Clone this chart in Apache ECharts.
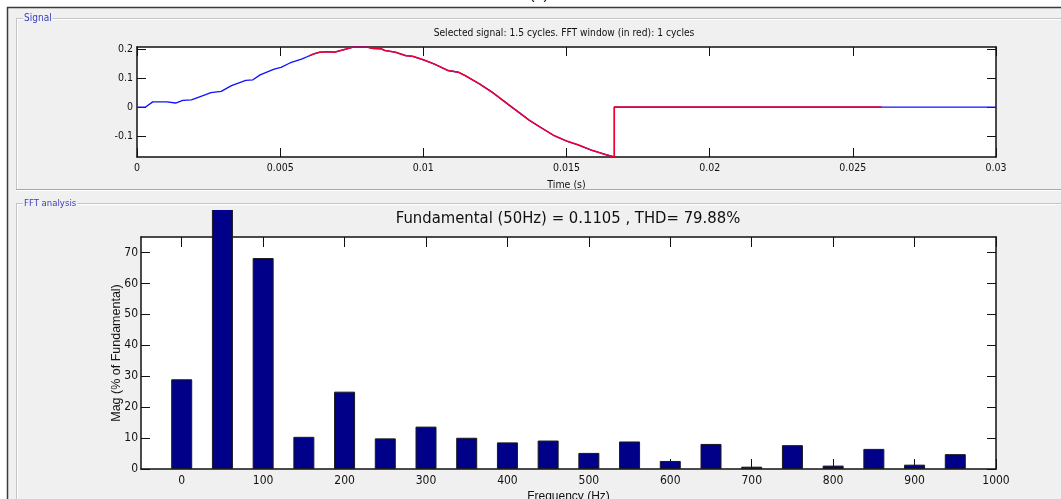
<!DOCTYPE html>
<html>
<head>
<meta charset="utf-8">
<script src="https://cdn.jsdelivr.net/npm/echarts/dist/echarts.min.js"></script>
<style>
  html, body { margin: 0; padding: 0; background: #f0f0f0; overflow: hidden; }
  #frame { position: absolute; left: 0; top: 0; width: 1061px; height: 499px; }
  #sig   { position: absolute; left: 0; top: 0; width: 1061px; height: 189px; }
  #fft   { position: absolute; left: 0; top: 210px; width: 1061px; height: 289px; }
</style>
</head>
<body>
<div id="frame"></div>
<div id="sig"></div>
<div id="fft"></div>
<script>
// ---- Signal panel data (time in s, amplitude) ----
const signalTime = [0, 0.0003, 0.00055, 0.00104, 0.00135, 0.0016, 0.0019, 0.0024, 0.00258, 0.00294,
  0.0033, 0.0038, 0.00405, 0.0043, 0.00479, 0.00503, 0.00534, 0.00577, 0.006, 0.0062,
  0.00638, 0.00669, 0.0069, 0.0073, 0.00755, 0.00804, 0.00822, 0.00853, 0.00865, 0.00902,
  0.00939, 0.00963, 0.01, 0.01037, 0.01086, 0.01123, 0.01147, 0.01196, 0.01245, 0.01294,
  0.01344, 0.01368, 0.01405, 0.01454, 0.01503, 0.0154, 0.01589, 0.01638, 0.01667, 0.01667,
  0.026, 0.03];
const signalValue = [0, 0, 0.018, 0.018, 0.014, 0.023, 0.025, 0.043, 0.05, 0.054,
  0.074, 0.092, 0.094, 0.111, 0.131, 0.137, 0.152, 0.166, 0.176, 0.184,
  0.189, 0.191, 0.189, 0.2, 0.207, 0.207, 0.202, 0.201, 0.195, 0.189,
  0.177, 0.175, 0.163, 0.149, 0.126, 0.12, 0.108, 0.08, 0.048, 0.011,
  -0.026, -0.044, -0.067, -0.097, -0.118, -0.13, -0.149, -0.164, -0.172, 0,
  0, 0];
const fftWindow = [0.006, 0.026];          // one cycle, drawn in red
const timeTicks = [0, 0.005, 0.01, 0.015, 0.02, 0.025, 0.03];
const ampTicks = [-0.1, 0, 0.1, 0.2];

// ---- FFT panel data (Hz, % of fundamental) ----
const harmonicFreq = [0, 50, 100, 150, 200, 250, 300, 350, 400, 450,
  500, 550, 600, 650, 700, 750, 800, 850, 900, 950];
const harmonicMag = [29.0, 100, 68.2, 10.4, 25.0, 9.9, 13.7, 10.1, 8.6, 9.2,
  5.2, 8.9, 2.6, 8.1, 0.75, 7.7, 1.1, 6.5, 1.4, 4.8];
const freqTicks = [0, 100, 200, 300, 400, 500, 600, 700, 800, 900, 1000];
const magTicks = [0, 10, 20, 30, 40, 50, 60, 70];

const signalTitle = 'Selected signal: 1.5 cycles. FFT window (in red): 1 cycles';
const fftTitle = 'Fundamental (50Hz) = 0.1105 , THD= 79.88%';

const NARROW = "'Liberation Sans Narrow','DejaVu Sans Condensed','Liberation Sans',Arial,sans-serif";
const SANS = "'Liberation Sans',Arial,sans-serif";
const BG = '#f0f0f0';
const INK = '#111';

// ---------- figure frame and panel boxes ----------
const frame = echarts.init(document.getElementById('frame'), null, { renderer: 'canvas' });
function hline(x1, x2, y, color, w) {
  return { type: 'line', shape: { x1: x1, y1: y, x2: x2, y2: y }, style: { stroke: color, lineWidth: w || 1 }, silent: true };
}
function vline(x, y1, y2, color, w) {
  return { type: 'line', shape: { x1: x, y1: y1, x2: x, y2: y2 }, style: { stroke: color, lineWidth: w || 1 }, silent: true };
}
frame.setOption({
  backgroundColor: BG,
  graphic: [
    { type: 'rect', shape: { x: 0, y: 0, width: 1061, height: 7 }, style: { fill: '#fff' }, silent: true },
    { type: 'rect', shape: { x: 0, y: 0, width: 7, height: 499 }, style: { fill: '#fff' }, silent: true },
    { type: 'text', x: 539, y: 3, style: { text: '(a)', font: '16px ' + SANS, fill: INK, align: 'center', verticalAlign: 'bottom' }, silent: true },
    hline(7, 1061, 7.5, '#3a3a3a', 1.5),
    vline(7.5, 7, 499, '#3a3a3a', 1.5),
    // Signal panel
    hline(16, 1061, 18.5, '#c4c4c4'), hline(17, 1061, 19.5, '#ffffff'),
    vline(16.5, 18, 189, '#c4c4c4'), vline(17.5, 19, 189, '#ffffff'),
    hline(16, 1061, 189.5, '#a8a8a8'), hline(16, 1061, 190.5, '#ffffff'),
    // FFT panel
    hline(16, 1061, 203.5, '#c4c4c4'), hline(17, 1061, 204.5, '#ffffff'),
    vline(16.5, 203, 499, '#c4c4c4'), vline(17.5, 204, 499, '#ffffff'),
    { type: 'text', x: 23, y: 18, style: { text: 'Signal', font: '10px ' + NARROW, fill: '#3b3bc4', verticalAlign: 'middle', backgroundColor: BG, padding: [0, 1] }, silent: true },
    { type: 'text', x: 23, y: 204, style: { text: 'FFT analysis', font: '9.5px ' + NARROW, fill: '#3b3bc4', verticalAlign: 'middle', backgroundColor: BG, padding: [0, 1] }, silent: true }
  ]
});

// ---------- common axis pieces ----------
function tickStyle(values, len) {
  return { show: true, inside: true, length: len, customValues: values, lineStyle: { color: INK, width: 1 } };
}
function frameLine() {
  return { show: true, onZero: false, lineStyle: { color: INK, width: 1.5 } };
}
function fmt(v) { return String(Math.round(v * 1e6) / 1e6); }

// ---------- Signal panel ----------
const sigPairs = signalTime.map((t, i) => [t, signalValue[i]]);
const winPairs = sigPairs.filter(p => p[0] >= fftWindow[0] && p[0] <= fftWindow[1]);

const sig = echarts.init(document.getElementById('sig'), null, { renderer: 'canvas' });
sig.setOption({
  backgroundColor: 'transparent',
  animation: false,
  grid: { left: 137, top: 47, width: 859, height: 110, outerBoundsMode: 'none', containLabel: false,
          backgroundColor: '#fff', show: true, borderWidth: 0 },
  graphic: [{ type: 'text', x: 564, y: 33, style: { text: signalTitle, font: '10.2px ' + NARROW, fill: INK, align: 'center', verticalAlign: 'middle' } }],
  xAxis: [{
    type: 'value', min: 0, max: 0.03, position: 'bottom',
    axisLine: frameLine(),
    axisTick: tickStyle(timeTicks, 9),
    axisLabel: { customValues: timeTicks, formatter: fmt, margin: 6, color: INK, fontSize: 10.5, fontFamily: NARROW },
    splitLine: { show: false },
    name: 'Time (s)', nameLocation: 'middle', nameGap: 23, nameMoveOverlap: false,
    nameTextStyle: { color: INK, fontSize: 10.5, fontFamily: NARROW, verticalAlign: 'top' }
  }, {
    type: 'value', min: 0, max: 0.03, position: 'top',
    axisLine: frameLine(),
    axisTick: tickStyle(timeTicks, 9), axisLabel: { show: false }, splitLine: { show: false }
  }],
  yAxis: [{
    type: 'value', min: -0.172, max: 0.207, position: 'left',
    axisLine: frameLine(),
    axisTick: tickStyle(ampTicks, 9),
    axisLabel: { customValues: ampTicks, formatter: fmt, margin: 4, color: INK, fontSize: 10.5, fontFamily: NARROW },
    splitLine: { show: false }
  }, {
    type: 'value', min: -0.172, max: 0.207, position: 'right',
    axisLine: frameLine(),
    axisTick: tickStyle(ampTicks, 9), axisLabel: { show: false }, splitLine: { show: false }
  }],
  series: [{
    type: 'line', data: sigPairs, showSymbol: false, symbol: 'none',
    lineStyle: { color: '#1010ff', width: 1.3 }, xAxisIndex: 0, yAxisIndex: 0, z: 3
  }, {
    type: 'line', data: winPairs, showSymbol: false, symbol: 'none',
    lineStyle: { color: '#f0002a', width: 1.5 }, xAxisIndex: 0, yAxisIndex: 0, z: 4
  }]
});

// ---------- FFT panel ----------
const fft = echarts.init(document.getElementById('fft'), null, { renderer: 'canvas' });
fft.setOption({
  backgroundColor: 'transparent',
  animation: false,
  grid: { left: 141, top: 27, width: 855, height: 232, outerBoundsMode: 'none', containLabel: false,
          backgroundColor: '#fff', show: true, borderWidth: 0 },
  graphic: [{ type: 'text', x: 568, y: 9, style: { text: fftTitle, font: '16.5px ' + NARROW, fill: INK, align: 'center', verticalAlign: 'middle' } }],
  xAxis: [{
    type: 'value', min: -50, max: 1000, position: 'bottom',
    axisLine: frameLine(),
    axisTick: tickStyle(freqTicks, 10),
    axisLabel: { customValues: freqTicks, formatter: fmt, margin: 6, color: INK, fontSize: 12, fontFamily: NARROW },
    splitLine: { show: false },
    name: 'Frequency (Hz)', nameLocation: 'middle', nameGap: 22, nameMoveOverlap: false,
    nameTextStyle: { color: INK, fontSize: 12, fontFamily: SANS, verticalAlign: 'top' }
  }, {
    type: 'value', min: -50, max: 1000, position: 'top',
    axisLine: frameLine(),
    axisTick: tickStyle(freqTicks, 10), axisLabel: { show: false }, splitLine: { show: false }
  }],
  yAxis: [{
    type: 'value', min: 0, max: 75, position: 'left',
    axisLine: frameLine(),
    axisTick: tickStyle(magTicks, 9),
    axisLabel: { customValues: magTicks, formatter: fmt, margin: 3, color: INK, fontSize: 12, fontFamily: NARROW },
    splitLine: { show: false },
    name: 'Mag (% of Fundamental)', nameLocation: 'middle', nameGap: 18, nameMoveOverlap: false,
    nameTextStyle: { color: INK, fontSize: 12.5, fontFamily: SANS }
  }, {
    type: 'value', min: 0, max: 75, position: 'right',
    axisLine: frameLine(),
    axisTick: tickStyle(magTicks, 9), axisLabel: { show: false }, splitLine: { show: false }
  }],
  series: [{
    type: 'bar', clip: false, barWidth: 21,
    data: harmonicFreq.map((f, i) => [f, harmonicMag[i]]),
    itemStyle: { color: '#000088', borderColor: '#1a1a1a', borderWidth: 1 },
    xAxisIndex: 0, yAxisIndex: 0, z: 3
  }]
});
</script>
</body>
</html>
